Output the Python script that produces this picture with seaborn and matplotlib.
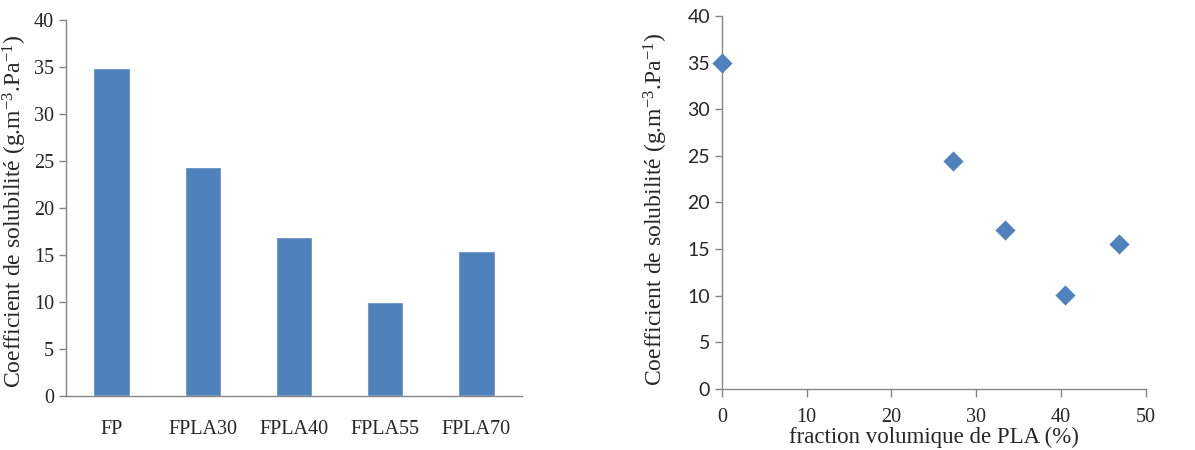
import matplotlib
matplotlib.use("Agg")
import matplotlib.pyplot as plt
import pandas as pd
import seaborn as sbn

# donnees
echantillons = ["FP", "FPLA30", "FPLA40", "FPLA55", "FPLA70"]
coef_solubilite = [34.9, 24.4, 16.9, 10.05, 15.4]
fraction_pla = [0.0, 27.3, 33.4, 40.5, 46.9]
coef_points = [35.0, 24.4, 17.0, 10.1, 15.5]

bleu = "#4F81BD"
gris = "#868686"

sbn.set_style("white")
plt.rcParams["font.family"] = ["Liberation Serif", "DejaVu Serif"]
plt.rcParams["mathtext.fontset"] = "custom"
plt.rcParams["mathtext.rm"] = "Liberation Serif"
plt.rcParams["mathtext.it"] = "Liberation Serif:italic"

ylabel = "Coefficient de solubilité (g.m$^{\\mathregular{-3}}$.Pa$^{\\mathregular{-1}}$)"

fig = plt.figure(figsize=(11.95, 4.5), dpi=100)

# --- graphique en barres ---
ax1 = fig.add_axes([66 / 1195, 54 / 450, 456 / 1195, 376 / 450])
df = pd.DataFrame({"ech": echantillons, "coef": coef_solubilite})
sbn.barplot(data=df, x="ech", y="coef", color=bleu, saturation=1, width=0.4, ax=ax1)
ax1.set_xlim(-0.5, 4.5)
ax1.set_ylim(0, 40)
ax1.set_yticks(range(0, 41, 5))
ax1.set_xticks([i - 0.5 for i in range(6)], minor=True)
ax1.tick_params(axis="x", which="major", length=0, pad=17, labelsize=14.5)
ax1.tick_params(axis="x", which="minor", length=6, color=gris, width=1, direction="out")
ax1.tick_params(axis="y", length=5, color=gris, width=1, direction="out", labelsize=14.5, left=True)
ax1.set_xlabel("")
ax1.set_ylabel(ylabel, fontsize=17)
ax1.yaxis.set_label_coords(-0.082, 0.49)
for s in ["top", "right"]:
    ax1.spines[s].set_visible(False)
for s in ["left", "bottom"]:
    ax1.spines[s].set_color(gris)
    ax1.spines[s].set_linewidth(1)

# --- nuage de points ---
ax2 = fig.add_axes([722 / 1195, 61.3 / 450, 423.7 / 1195, 372.7 / 450])
df2 = pd.DataFrame({"frac": fraction_pla, "coef": coef_points})
sbn.scatterplot(data=df2, x="frac", y="coef", marker="D", s=105, color=bleu,
                edgecolor=bleu, linewidth=0, ax=ax2, clip_on=False, zorder=5)
ax2.set_xlim(0, 50)
ax2.set_ylim(0, 40)
ax2.set_xticks(range(0, 51, 10))
ax2.set_yticks(range(0, 41, 5))
ax2.tick_params(axis="x", length=6, color=gris, width=1, direction="out", pad=8, labelsize=14.5, bottom=True)
ax2.tick_params(axis="y", length=5, color=gris, width=1, direction="out", labelsize=14, left=True)
for lab in ax2.get_yticklabels():
    lab.set_family(["Lato", "DejaVu Sans"])
ax2.set_xlabel("fraction volumique de PLA (%)", fontsize=16.5, labelpad=0)
ax2.set_ylabel(ylabel, fontsize=17)
ax2.yaxis.set_label_coords(-0.123, 0.48)
for s in ["top", "right"]:
    ax2.spines[s].set_visible(False)
for s in ["left", "bottom"]:
    ax2.spines[s].set_color(gris)
    ax2.spines[s].set_linewidth(1)

fig.savefig("out.png", dpi=100)
